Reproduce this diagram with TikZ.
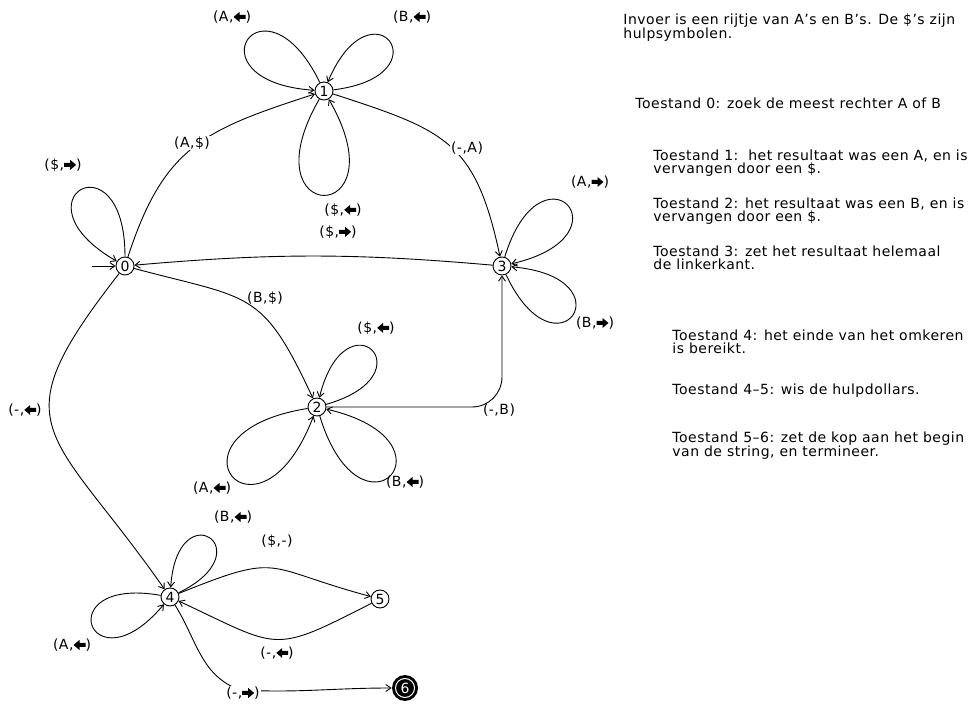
\documentclass[tikz,border=0pt]{standalone}
\usepackage{fontspec}
\setmainfont{DejaVu Sans}[LetterSpace=3.5]
\usetikzlibrary{arrows.meta}

\newcommand{\ArR}{\tikz[baseline=-4.4pt]\fill (0pt,-2pt) -- (6pt,-2pt) -- (6pt,-5pt) -- (12pt,0pt) -- (6pt,5pt) -- (6pt,2pt) -- (0pt,2pt) -- cycle;}
\newcommand{\ArL}{\tikz[baseline=-4.4pt]\fill (12pt,-2pt) -- (6pt,-2pt) -- (6pt,-5pt) -- (0pt,0pt) -- (6pt,5pt) -- (6pt,2pt) -- (12pt,2pt) -- cycle;}

\tikzset{
  state/.style={circle, draw, minimum size=18pt, inner sep=0pt, font=\fontsize{14}{14}\selectfont},
  final/.style={circle, fill=black, text=white, minimum size=26pt, inner sep=0pt,
    font=\fontsize{14}{14}\selectfont,
    path picture={\draw[white, line width=1pt] (path picture bounding box.center) circle (9.5pt);}},
  lbl/.style={inner sep=1pt, font=\fontsize{14}{14}\selectfont},
  note/.style={anchor=north west, align=left, inner sep=0pt, font=\fontsize{14}{13}\selectfont},
}

\begin{document}
\begin{tikzpicture}[x=1pt,y=1pt,line width=0.9pt,>={Straight Barb[length=5pt,width=7pt]}]
    \useasboundingbox (0,0) rectangle (972,707);

    % toestanden
    \node[state] (s0) at (125,441) {0};
    \node[state] (s1) at (324,616) {1};
    \node[state] (s2) at (317,300) {2};
    \node[state] (s3) at (502,441) {3};
    \node[state] (s4) at (170,110) {4};
    \node[state] (s5) at (380,108) {5};
    \node[final] (s6) at (405,19) {6};
    \coordinate (init) at (92,441);
    \coordinate (k46) at (240,17);

    % overgangen
    \draw[->] (init) -- (s0);
    \draw[->] (s0) to[out=72,in=198,looseness=1.2] (s1);
    \draw[->] (s1) to[out=-18,in=102,looseness=1.3] (s3);
    \draw[->] (s3) to[bend right=5] (s0);
    \draw[->] (s0) to[out=-15,in=115,looseness=1.4] (s2);
    \draw[->,rounded corners=30pt] (s2) -| (s3);
    \draw[->] (s0) to[out=232,in=125,looseness=1.6] (s4);
    \draw[->] (s4) to[out=22,in=165,looseness=1.5] (s5);
    \draw[->] (s5) to[out=207,in=-25,looseness=1.5] (s4);
    \draw[->] (s4) to[out=-58,in=160] (k46) to[out=-3,in=180] (s6);

    % lussen
    \draw[->] (s0) to[out=90,in=150,distance=123pt] (s0);
    \draw[->] (s1) to[out=116,in=176,distance=129pt] (s1);
    \draw[->] (s1) to[out=7,in=67,distance=114pt] (s1);
    \draw[->] (s1) to[out=240,in=300,distance=148pt] (s1);
    \draw[->] (s3) to[out=73,in=13,distance=125pt] (s3);
    \draw[->] (s3) to[out=-65,in=-5,distance=120pt] (s3);
    \draw[->] (s2) to[out=16,in=76,distance=109pt] (s2);
    \draw[->] (s2) to[out=189,in=249,distance=156pt] (s2);
    \draw[->] (s2) to[out=-73,in=-13,distance=142pt] (s2);
    \draw[->] (s4) to[out=26,in=86,distance=97pt] (s4);
    \draw[->] (s4) to[out=170,in=230,distance=115pt] (s4);

    % labels
    \node[lbl,fill=white] (l01) at (192,564) {(A,\$)};
    \node[lbl,fill=white] (l13) at (467,559) {(-,A)};
    \node[lbl] (l30) at (338,475) {(\$,\ArR)};
    \node[lbl] (l02) at (265,409) {(B,\$)};
    \node[lbl] (l23) at (499,297) {(-,B)};
    \node[lbl] (l04) at (25,297) {(-,\ArL)};
    \node[lbl] (l45) at (277,166) {(\$,-)};
    \node[lbl] (l54) at (277,54) {(-,\ArL)};
    \node[lbl,fill=white] (l46) at (243,14) {(-,\ArR)};
    \node[lbl] (l00) at (63,542) {(\$,\ArR)};
    \node[lbl] (l11a) at (232,690) {(A,\ArL)};
    \node[lbl] (l11b) at (412,690) {(B,\ArL)};
    \node[lbl] (l11c) at (343,497) {(\$,\ArL)};
    \node[lbl] (l33a) at (590,525) {(A,\ArR)};
    \node[lbl] (l33b) at (595,384) {(B,\ArR)};
    \node[lbl] (l22a) at (376,379) {(\$,\ArL)};
    \node[lbl] (l22b) at (212,219) {(A,\ArL)};
    \node[lbl] (l22c) at (405,225) {(B,\ArL)};
    \node[lbl] (l44a) at (233,190) {(B,\ArL)};
    \node[lbl] (l44b) at (72,62) {(A,\ArL)};

    % uitleg
    \node[note] (uitleg) at (623,694) {Invoer is een rijtje van A's en B's. De \$'s zijn\\hulpsymbolen.};
    \node[note] (t0) at (635,610) {Toestand 0: zoek de meest rechter A of B};
    \node[note] (t1) at (653,558) {Toestand 1:\ \ het resultaat was een A, en is\\vervangen door een \$.};
    \node[note] (t2) at (653,510) {Toestand 2: het resultaat was een B, en is\\vervangen door een \$.};
    \node[note] (t3) at (653,462) {Toestand 3: zet het resultaat helemaal\\de linkerkant.};
    \node[note] (t4) at (672,378) {Toestand 4: het einde van het omkeren\\is bereikt.};
    \node[note] (t45) at (672,324) {Toestand 4--5: wis de hulpdollars.};
    \node[note] (t56) at (672,276) {Toestand 5--6: zet de kop aan het begin\\van de string, en termineer.};
\end{tikzpicture}
\end{document}
